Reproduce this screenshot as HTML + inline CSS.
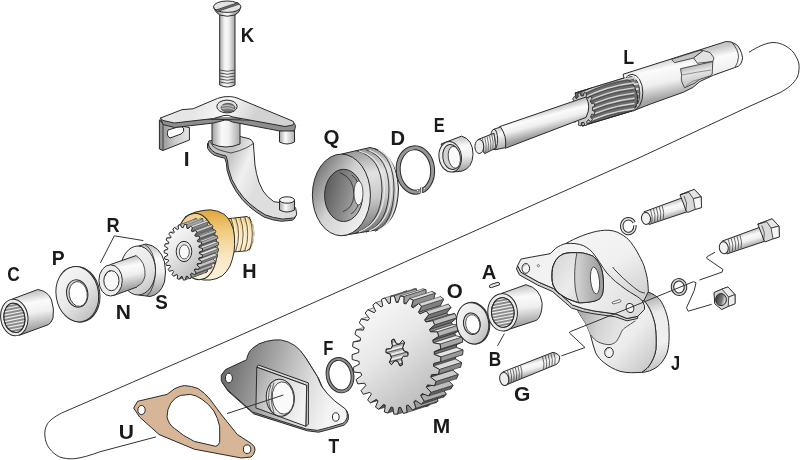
<!DOCTYPE html><html><head><meta charset="utf-8"><style>html,body{margin:0;padding:0;background:#fff;overflow:hidden;}svg{display:block;will-change:transform;}</style></head><body><svg width="800" height="460" viewBox="0 0 800 460"><defs>
<linearGradient id="gH" x1="0" y1="0" x2="1" y2="0">
 <stop offset="0" stop-color="#a0a0a0"/><stop offset="0.4" stop-color="#f6f6f6"/><stop offset="1" stop-color="#b4b4b4"/></linearGradient>
<linearGradient id="gD" x1="0" y1="0" x2="1" y2="1">
 <stop offset="0" stop-color="#fdfdfd"/><stop offset="1" stop-color="#a8a8a8"/></linearGradient>
<linearGradient id="gDr" x1="1" y1="0" x2="0" y2="1">
 <stop offset="0" stop-color="#fdfdfd"/><stop offset="1" stop-color="#a8a8a8"/></linearGradient>
<linearGradient id="gT" x1="0" y1="0" x2="1" y2="0.3">
 <stop offset="0" stop-color="#6a6a6a"/><stop offset="0.55" stop-color="#d4d4d4"/><stop offset="1" stop-color="#f4f4f4"/></linearGradient>
<linearGradient id="gGold" x1="0" y1="0" x2="1" y2="1">
 <stop offset="0" stop-color="#e0ad45"/><stop offset="0.45" stop-color="#f4d68e"/><stop offset="1" stop-color="#f0d9a0"/></linearGradient>
<linearGradient id="gM" x1="0" y1="0" x2="0.6" y2="1">
 <stop offset="0" stop-color="#ffffff"/><stop offset="0.5" stop-color="#e8e8e8"/><stop offset="1" stop-color="#bdbdbd"/></linearGradient>
<linearGradient id="gQ" x1="0" y1="0" x2="1" y2="1">
 <stop offset="0" stop-color="#5a5a5a"/><stop offset="0.45" stop-color="#e8e8e8"/><stop offset="1" stop-color="#7a7a7a"/></linearGradient>
<linearGradient id="gQi" x1="0" y1="0" x2="1" y2="1">
 <stop offset="0" stop-color="#5c5c5c"/><stop offset="1" stop-color="#a8a8a8"/></linearGradient>
<linearGradient id="cg1" gradientUnits="userSpaceOnUse" x1="219.7" y1="0" x2="235" y2="0"><stop offset="0" stop-color="#a8a8a8"/><stop offset="0.35" stop-color="#f8f8f8"/><stop offset="0.6" stop-color="#f0f0f0"/><stop offset="1" stop-color="#a0a0a0"/></linearGradient><linearGradient id="cg2" gradientUnits="userSpaceOnUse" x1="228" y1="160" x2="262" y2="175"><stop offset="0" stop-color="#c4c4c4"/><stop offset="0.5" stop-color="#f0f0f0"/><stop offset="1" stop-color="#dedede"/></linearGradient><linearGradient id="cg3" gradientUnits="userSpaceOnUse" x1="279.5" y1="0" x2="294.5" y2="0"><stop offset="0" stop-color="#a8a8a8"/><stop offset="0.4" stop-color="#fafafa"/><stop offset="1" stop-color="#b0b0b0"/></linearGradient><linearGradient id="cg4" gradientUnits="userSpaceOnUse" x1="212" y1="0" x2="240" y2="0"><stop offset="0" stop-color="#a0a0a0"/><stop offset="0.35" stop-color="#fafafa"/><stop offset="0.6" stop-color="#f0f0f0"/><stop offset="1" stop-color="#a8a8a8"/></linearGradient><linearGradient id="cg5" gradientUnits="userSpaceOnUse" x1="159" y1="0" x2="190" y2="0"><stop offset="0" stop-color="#8a8a8a"/><stop offset="0.5" stop-color="#c8c8c8"/><stop offset="1" stop-color="#e8e8e8"/></linearGradient><linearGradient id="cg6" gradientUnits="userSpaceOnUse" x1="200" y1="100" x2="250" y2="125"><stop offset="0" stop-color="#e6e6e6"/><stop offset="0.5" stop-color="#f8f8f8"/><stop offset="1" stop-color="#d2d2d2"/></linearGradient><linearGradient id="cg7" gradientUnits="userSpaceOnUse" x1="360" y1="150" x2="378" y2="232"><stop offset="0" stop-color="#9a9a9a"/><stop offset="0.3" stop-color="#e2e2e2"/><stop offset="0.6" stop-color="#c8c8c8"/><stop offset="1" stop-color="#707070"/></linearGradient><linearGradient id="cg8" gradientUnits="userSpaceOnUse" x1="315" y1="175" x2="372" y2="210"><stop offset="0" stop-color="#7c7c7c"/><stop offset="0.45" stop-color="#d2d2d2"/><stop offset="1" stop-color="#f0f0f0"/></linearGradient><linearGradient id="cg9" gradientUnits="userSpaceOnUse" x1="325" y1="190" x2="362" y2="200"><stop offset="0" stop-color="#5e5e5e"/><stop offset="0.6" stop-color="#8c8c8c"/><stop offset="1" stop-color="#b4b4b4"/></linearGradient><linearGradient id="cg10" gradientUnits="userSpaceOnUse" x1="459" y1="137" x2="463" y2="172"><stop offset="0" stop-color="#c4c4c4"/><stop offset="0.28" stop-color="#fbfbfb"/><stop offset="0.55" stop-color="#efefef"/><stop offset="1" stop-color="#9c9c9c"/></linearGradient><linearGradient id="cg11" gradientUnits="userSpaceOnUse" x1="676" y1="56" x2="684" y2="94"><stop offset="0" stop-color="#c8c8c8"/><stop offset="0.25" stop-color="#fbfbfb"/><stop offset="0.6" stop-color="#f0f0f0"/><stop offset="1" stop-color="#a4a4a4"/></linearGradient><linearGradient id="cg12" gradientUnits="userSpaceOnUse" x1="690" y1="64" x2="695" y2="86"><stop offset="0" stop-color="#a8a8a8"/><stop offset="0.4" stop-color="#e8e8e8"/><stop offset="1" stop-color="#bdbdbd"/></linearGradient><linearGradient id="cg13" gradientUnits="userSpaceOnUse" x1="543" y1="110" x2="549" y2="133"><stop offset="0" stop-color="#c4c4c4"/><stop offset="0.28" stop-color="#fbfbfb"/><stop offset="0.55" stop-color="#efefef"/><stop offset="1" stop-color="#9c9c9c"/></linearGradient><linearGradient id="cg14" gradientUnits="userSpaceOnUse" x1="498" y1="128" x2="501" y2="150"><stop offset="0" stop-color="#d0d0d0"/><stop offset="0.3" stop-color="#f8f8f8"/><stop offset="1" stop-color="#a8a8a8"/></linearGradient><linearGradient id="cg15" gradientUnits="userSpaceOnUse" x1="486" y1="134" x2="490" y2="153"><stop offset="0" stop-color="#c4c4c4"/><stop offset="0.28" stop-color="#fbfbfb"/><stop offset="0.55" stop-color="#efefef"/><stop offset="1" stop-color="#9c9c9c"/></linearGradient><linearGradient id="cg16" gradientUnits="userSpaceOnUse" x1="240" y1="216" x2="242" y2="251"><stop offset="0" stop-color="#e8c478"/><stop offset="0.35" stop-color="#f6e2b0"/><stop offset="0.75" stop-color="#faecd0"/><stop offset="1" stop-color="#f0dcb0"/></linearGradient><linearGradient id="cg17" gradientUnits="userSpaceOnUse" x1="212" y1="210" x2="214" y2="280"><stop offset="0" stop-color="#e0a63a"/><stop offset="0.3" stop-color="#f0cb7e"/><stop offset="0.65" stop-color="#f8e6c0"/><stop offset="1" stop-color="#fbf2dc"/></linearGradient><linearGradient id="cg18" gradientUnits="userSpaceOnUse" x1="180" y1="222" x2="210" y2="278"><stop offset="0" stop-color="#f0d08a"/><stop offset="0.5" stop-color="#f8e8c6"/><stop offset="1" stop-color="#fbf2dc"/></linearGradient><linearGradient id="cg19" gradientUnits="userSpaceOnUse" x1="30" y1="292" x2="36" y2="330"><stop offset="0" stop-color="#c4c4c4"/><stop offset="0.28" stop-color="#fbfbfb"/><stop offset="0.55" stop-color="#efefef"/><stop offset="1" stop-color="#9c9c9c"/></linearGradient><clipPath id="clipC"><ellipse cx="14.4" cy="317.9" rx="10.4" ry="14.7" transform="rotate(-8 14.4 317.9)"/></clipPath><linearGradient id="cg20" gradientUnits="userSpaceOnUse" x1="62" y1="272" x2="94" y2="318"><stop offset="0" stop-color="#f6f6f6"/><stop offset="0.5" stop-color="#e8e8e8"/><stop offset="1" stop-color="#bcbcbc"/></linearGradient><linearGradient id="cg21" gradientUnits="userSpaceOnUse" x1="150" y1="245" x2="155" y2="296"><stop offset="0" stop-color="#c4c4c4"/><stop offset="0.28" stop-color="#fbfbfb"/><stop offset="0.55" stop-color="#efefef"/><stop offset="1" stop-color="#9c9c9c"/></linearGradient><linearGradient id="cg22" gradientUnits="userSpaceOnUse" x1="125" y1="250" x2="150" y2="292"><stop offset="0" stop-color="#f4f4f4"/><stop offset="0.6" stop-color="#e6e6e6"/><stop offset="1" stop-color="#c4c4c4"/></linearGradient><linearGradient id="cg23" gradientUnits="userSpaceOnUse" x1="122" y1="258" x2="128" y2="290"><stop offset="0" stop-color="#c4c4c4"/><stop offset="0.28" stop-color="#fbfbfb"/><stop offset="0.55" stop-color="#efefef"/><stop offset="1" stop-color="#9c9c9c"/></linearGradient><linearGradient id="cg24" gradientUnits="userSpaceOnUse" x1="225" y1="360" x2="335" y2="395"><stop offset="0" stop-color="#686868"/><stop offset="0.5" stop-color="#b4b4b4"/><stop offset="0.8" stop-color="#e2e2e2"/><stop offset="1" stop-color="#f4f4f4"/></linearGradient><linearGradient id="cg25" gradientUnits="userSpaceOnUse" x1="256" y1="380" x2="308" y2="400"><stop offset="0" stop-color="#a8a8a8"/><stop offset="0.5" stop-color="#dcdcdc"/><stop offset="1" stop-color="#f4f4f4"/></linearGradient><clipPath id="clipSp"><path d="M392.5,345.9 L391.5,340.4 L394.0,339.0 L396.4,343.9 L399.2,344.3 L402.5,340.4 L404.6,342.4 L402.6,347.5 L403.7,350.8 L408.0,352.5 L407.7,355.9 L403.2,356.2 L401.5,359.1 L402.5,364.6 L400.0,366.0 L397.6,361.1 L394.8,360.7 L391.5,364.6 L389.4,362.6 L391.4,357.5 L390.3,354.2 L386.0,352.5 L386.3,349.1 L390.8,348.8 Z"/></clipPath><linearGradient id="cg26" gradientUnits="userSpaceOnUse" x1="458" y1="305" x2="488" y2="338"><stop offset="0" stop-color="#f8f8f8"/><stop offset="0.6" stop-color="#e4e4e4"/><stop offset="1" stop-color="#b8b8b8"/></linearGradient><linearGradient id="cg27" gradientUnits="userSpaceOnUse" x1="518" y1="286" x2="523" y2="326"><stop offset="0" stop-color="#c4c4c4"/><stop offset="0.28" stop-color="#fbfbfb"/><stop offset="0.55" stop-color="#efefef"/><stop offset="1" stop-color="#9c9c9c"/></linearGradient><clipPath id="clipB"><ellipse cx="502.8" cy="312.5" rx="11.3" ry="14.8" transform="rotate(-4 502.8 312.5)"/></clipPath><linearGradient id="cg28" gradientUnits="userSpaceOnUse" x1="645" y1="292" x2="668" y2="365"><stop offset="0" stop-color="#8c8c8c"/><stop offset="0.12" stop-color="#bdbdbd"/><stop offset="0.3" stop-color="#ececec"/><stop offset="0.7" stop-color="#f0f0f0"/><stop offset="1" stop-color="#c8c8c8"/></linearGradient><linearGradient id="cg29" gradientUnits="userSpaceOnUse" x1="590" y1="320" x2="645" y2="372"><stop offset="0" stop-color="#f4f4f4"/><stop offset="0.55" stop-color="#ececec"/><stop offset="1" stop-color="#cacaca"/></linearGradient><linearGradient id="cg30" gradientUnits="userSpaceOnUse" x1="578" y1="312" x2="630" y2="330"><stop offset="0" stop-color="#a6a6a6"/><stop offset="0.45" stop-color="#d4d4d4"/><stop offset="1" stop-color="#ececec"/></linearGradient><linearGradient id="cg31" gradientUnits="userSpaceOnUse" x1="605" y1="232" x2="640" y2="300"><stop offset="0" stop-color="#f4f4f4"/><stop offset="0.4" stop-color="#f0f0f0"/><stop offset="1" stop-color="#d0d0d0"/></linearGradient><linearGradient id="cg32" gradientUnits="userSpaceOnUse" x1="520" y1="250" x2="640" y2="310"><stop offset="0" stop-color="#eeeeee"/><stop offset="0.5" stop-color="#f6f6f6"/><stop offset="1" stop-color="#dcdcdc"/></linearGradient><linearGradient id="cg33" gradientUnits="userSpaceOnUse" x1="552" y1="262" x2="604" y2="298"><stop offset="0" stop-color="#d8d8d8"/><stop offset="0.45" stop-color="#ececec"/><stop offset="1" stop-color="#c4c4c4"/></linearGradient><linearGradient id="cg34" gradientUnits="userSpaceOnUse" x1="578" y1="270" x2="600" y2="270"><stop offset="0" stop-color="#cfcfcf"/><stop offset="1" stop-color="#9e9e9e"/></linearGradient><linearGradient id="cg35" gradientUnits="userSpaceOnUse" x1="528" y1="361" x2="532" y2="376"><stop offset="0" stop-color="#c4c4c4"/><stop offset="0.28" stop-color="#fbfbfb"/><stop offset="0.55" stop-color="#efefef"/><stop offset="1" stop-color="#9c9c9c"/></linearGradient><linearGradient id="cg36" gradientUnits="userSpaceOnUse" x1="664" y1="204" x2="668" y2="218"><stop offset="0" stop-color="#c8c8c8"/><stop offset="0.3" stop-color="#fafafa"/><stop offset="0.6" stop-color="#f0f0f0"/><stop offset="1" stop-color="#a8a8a8"/></linearGradient><linearGradient id="cg37" gradientUnits="userSpaceOnUse" x1="741.8" y1="233.4" x2="745.8" y2="247.4"><stop offset="0" stop-color="#c8c8c8"/><stop offset="0.3" stop-color="#fafafa"/><stop offset="0.6" stop-color="#f0f0f0"/><stop offset="1" stop-color="#a8a8a8"/></linearGradient><linearGradient id="cg38" gradientUnits="userSpaceOnUse" x1="716" y1="298" x2="727" y2="301"><stop offset="0" stop-color="#3e3e3e"/><stop offset="0.55" stop-color="#7a7a7a"/><stop offset="0.8" stop-color="#d8d8d8"/><stop offset="1" stop-color="#a0a0a0"/></linearGradient></defs><rect width="800" height="460" fill="#fff"/><path d="M749,52.3 C754,49 758,47 760.9,45.7 C765,44 769,42.7 773,42.5 C778,42.5 782,44 785.2,45.7 C790,48.5 794,52 795.7,56.1 C798,60 799.2,63 799.1,66.5 C799.2,70.5 798.5,74 797.4,77 C795.5,80.5 793,83.5 790.4,85.7 C787,88.5 783.5,90.8 780,92.6 L743.5,109.1 L640,157.4 L229.4,340.1 L61.5,413.1 C55,416.5 50,420 47.5,423.75 C45,428 44.5,432 44.9,436 C45.3,441 46.8,445 49.25,448.25 C52,452 55.5,455 59.75,457 C64,458.5 68.5,459 73.75,458.75 C82,458 91,455 100,451.75 L156,436.9" fill="none" stroke="#333" stroke-width="1"/>
<path d="M219.7,13 L235,13 L235,85 Q227.3,89 219.7,85 Z" fill="url(#cg1)" stroke="#2a2a2a" stroke-width="1"/>
<path d="M219.7,70 Q227.3,72.5 235,70" fill="none" stroke="#444" stroke-width="0.9"/>
<path d="M219.7,73 Q227.3,75.5 235,73" fill="none" stroke="#444" stroke-width="0.9"/>
<path d="M219.7,76 Q227.3,78.5 235,76" fill="none" stroke="#444" stroke-width="0.9"/>
<path d="M219.7,79 Q227.3,81.5 235,79" fill="none" stroke="#444" stroke-width="0.9"/>
<path d="M219.7,82 Q227.3,84.5 235,82" fill="none" stroke="#444" stroke-width="0.9"/>
<path d="M213.6,7.5 Q215,12 219.7,15 Q227.3,17.5 235,15 Q240,12 240.8,7.5 Z" fill="url(#cg1)" stroke="#2a2a2a" stroke-width="1"/>
<ellipse cx="227.2" cy="6.7" rx="13.7" ry="5.7" fill="#e2e2e2" stroke="#2a2a2a" stroke-width="1"/>
<path d="M216,10 L238,2.6 L239,4.2 L217.2,11.5 Z" fill="#777" stroke="#333" stroke-width="0.8"/>
<path d="M208.7,141 L208.7,146 Q211,150.5 215.2,152.8 Q221,155 226,156 Q228,160 228.3,168 Q231,180 237,188.7 Q243,198 250,204 Q257,210 265.2,214.8 Q273,218 282.6,219.1 L293.5,218 Q297,216 296.7,213.7 L295.7,208.3 Q294,205 291.3,204 L273.9,201.7 Q267,197 263,190.9 Q258,182 256.5,173.5 Q254.5,165 254.3,156 L253.3,143 Q252,139.5 249,138.7 L240.2,136.5 Z" transform="translate(-1.2,2.2)" fill="#9a9a9a" stroke="#2a2a2a" stroke-width="1"/>
<path d="M208.7,141 L208.7,146 Q211,150.5 215.2,152.8 Q221,155 226,156 Q228,160 228.3,168 Q231,180 237,188.7 Q243,198 250,204 Q257,210 265.2,214.8 Q273,218 282.6,219.1 L293.5,218 Q297,216 296.7,213.7 L295.7,208.3 Q294,205 291.3,204 L273.9,201.7 Q267,197 263,190.9 Q258,182 256.5,173.5 Q254.5,165 254.3,156 L253.3,143 Q252,139.5 249,138.7 L240.2,136.5 Z" fill="url(#cg2)" stroke="#2a2a2a" stroke-width="1"/>
<path d="M210,141.5 Q212,147 218,149.5 Q226,152 231,153 Q240,151 247,147.5 Q251,145 253.3,143.5" fill="none" stroke="#2a2a2a" stroke-width="0.8"/>
<path d="M279.5,200 L279.5,210 Q287,214 294.5,210 L294.5,200 Z" fill="url(#cg3)" stroke="#2a2a2a" stroke-width="1"/>
<ellipse cx="287" cy="200" rx="7.5" ry="3.2" fill="#f2f2f2" stroke="#2a2a2a" stroke-width="1"/>
<path d="M212,118 L212,144 Q226,150 240,144 L240,118 Z" fill="url(#cg4)" stroke="#2a2a2a" stroke-width="1"/>
<path d="M159.4,120 L159.4,149 L163,150.5 L189.4,140 L189.4,127.5 L163,123 Z" fill="url(#cg5)" stroke="#2a2a2a" stroke-width="1"/>
<path d="M168,130 Q166,136 170,138 L181,134 Q185,132 183.5,128 Q182,126 178,127 Z" fill="#fff" stroke="#2a2a2a" stroke-width="1"/>
<path d="M159.4,120 L163,123 L163,150.5" fill="none" stroke="#2a2a2a" stroke-width="0.8"/>
<path d="M160.3,118.1 L163,124.5 L174.4,127.5 L213.75,123 L225,120 Q228,119.5 232.5,122 L285,132 L294.4,131 L295.6,125.5 L292.5,121 Z" fill="#8e8e8e" stroke="#2a2a2a" stroke-width="1"/>
<path d="M160.3,118.1 L181.9,109.7 L193.1,108.75 L217.5,98.4 Q224,96 230.6,96.6 Q235,97 238,98.4 L292.5,121 Q295.5,123 293,125 L285,126.5 L233,117 Q228,114.5 224,115.5 L213.5,118.5 L174.4,123 L163,120.5 Z" fill="url(#cg6)" stroke="#2a2a2a" stroke-width="1"/>
<ellipse cx="227" cy="106.5" rx="10.2" ry="6.4" fill="#e4e4e4" stroke="#2a2a2a" stroke-width="1"/>
<ellipse cx="228" cy="107.7" rx="7" ry="4.3" fill="#7e7e7e" stroke="#333" stroke-width="0.7"/>
<path d="M221.5,106.3 Q228,103.8 234,107 M221.5,108.8 Q228,106.3 234.5,109.6" fill="none" stroke="#d8d8d8" stroke-width="0.8"/>
<path d="M279.5,131 L279.5,142 Q287,146 294.5,142 L294.5,131 Z" fill="url(#cg3)" stroke="#2a2a2a" stroke-width="1"/>
<path d="M341.4,154.1 L370,147.5 Q396,152 398.5,188 Q398,224 375,230.2 L341.4,235.7 Z" fill="url(#cg7)" stroke="#2a2a2a" stroke-width="1"/>
<path d="M356,150.5 Q382,157 382,190 Q381,224 356,233.0" fill="none" stroke="#2a2a2a" stroke-width="0.9"/>
<path d="M359,151.0 Q384.5,158 384.5,190 Q383.5,222 359,232.0" fill="none" stroke="#e8e8e8" stroke-width="1.2"/>
<path d="M366,149.7 Q389,157 389,190 Q388,224 366,232.2" fill="none" stroke="#2a2a2a" stroke-width="0.9"/>
<path d="M369,150.2 Q391.5,158 391.5,190 Q390.5,222 369,231.2" fill="none" stroke="#e8e8e8" stroke-width="1.2"/>
<path d="M375,148.9 Q394,157 394,190 Q393,224 375,231.4" fill="none" stroke="#2a2a2a" stroke-width="0.9"/>
<path d="M378,149.4 Q396.5,158 396.5,190 Q395.5,222 378,230.4" fill="none" stroke="#e8e8e8" stroke-width="1.2"/>
<ellipse cx="341.4" cy="194.9" rx="29" ry="40.8" fill="url(#cg8)" stroke="#2a2a2a" stroke-width="1"/>
<ellipse cx="343.6" cy="195.4" rx="19" ry="26.1" fill="url(#cg9)" stroke="#2a2a2a" stroke-width="1"/>
<path d="M339.8,172.6 Q354,178 354,195 Q353,208 343,211.7" fill="none" stroke="#2a2a2a" stroke-width="0.8"/>
<path d="M351.7,174.8 Q361,182 360,198 Q358,210 351,214" fill="none" stroke="#2a2a2a" stroke-width="0.8"/>
<ellipse cx="358.5" cy="193" rx="4.5" ry="12" fill="#f6f6f6" stroke="#2a2a2a" stroke-width="0.7"/>
<ellipse cx="415.4" cy="170" rx="17.2" ry="22.2" transform="rotate(-5 415.4 170)" fill="none" stroke="#2a2a2a" stroke-width="5"/>
<ellipse cx="415.4" cy="170" rx="17.2" ry="22.2" transform="rotate(-5 415.4 170)" fill="none" stroke="#979797" stroke-width="3"/>
<path d="M419.5,186 L422.5,186 L423,195 L420,195 Z" fill="#fff"/>
<path d="M420.5,187.5 L420.8,193.5" stroke="#2a2a2a" stroke-width="0.8"/>
<path d="M422.3,187 L422.6,193" stroke="#2a2a2a" stroke-width="0.8"/>
<circle cx="417.6" cy="190.6" r="1.1" fill="#fff" stroke="#222" stroke-width="0.5"/><circle cx="424.4" cy="188.5" r="1.1" fill="#fff" stroke="#222" stroke-width="0.5"/>
<path d="M441,144 L461.6,136.1 Q473,139.5 473,154.4 Q472.5,168 462,171.1 L453,172 Z" fill="url(#cg10)" stroke="#2a2a2a" stroke-width="1"/>
<ellipse cx="450.2" cy="156.8" rx="11.2" ry="15.3" transform="rotate(-8 450.2 156.8)" fill="#ececec" stroke="#2a2a2a" stroke-width="1"/>
<ellipse cx="451.4" cy="157" rx="8.6" ry="12.6" transform="rotate(-8 451.4 157)" fill="#d2d2d2" stroke="#2a2a2a" stroke-width="1"/>
<ellipse cx="454.3" cy="157.3" rx="6" ry="11" transform="rotate(-8 454.3 157.3)" fill="#fafafa" stroke="#2a2a2a" stroke-width="0.8"/>
<path d="M623,74.3 L726.1,41.5 Q731,40.8 736.5,44.6 Q741,49 742.6,57.6 Q742,64 738.2,66.3 L734.4,67.7 L713.5,75.2 L700,81.4 L692.8,87.5 L683.7,92.1 L670,97 L650,104.2 L633,110.9 Z" fill="url(#cg11)" stroke="#2a2a2a" stroke-width="1"/>
<path d="M732,42.5 Q738.5,50 738.5,57 Q738,63 735,67.3" fill="none" stroke="#2a2a2a" stroke-width="0.8"/>
<ellipse cx="632" cy="92.6" rx="10.8" ry="18.3" fill="url(#cg11)" stroke="#2a2a2a" stroke-width="1"/>
<ellipse cx="631" cy="93" rx="8.8" ry="16.5" fill="#7a7a7a" stroke="#2a2a2a" stroke-width="0.8"/>
<path d="M626,80.0 L638.5,78.5" stroke="#e6e6e6" stroke-width="1.6"/>
<path d="M626,85.2 L638.5,83.7" stroke="#e6e6e6" stroke-width="1.6"/>
<path d="M626,90.4 L638.5,88.9" stroke="#e6e6e6" stroke-width="1.6"/>
<path d="M626,95.6 L638.5,94.1" stroke="#e6e6e6" stroke-width="1.6"/>
<path d="M626,100.8 L638.5,99.3" stroke="#e6e6e6" stroke-width="1.6"/>
<path d="M626,106.0 L638.5,104.5" stroke="#e6e6e6" stroke-width="1.6"/>
<path d="M671.5,59.4 L674.6,62.7 L693.7,58 L703.2,50.6 L700,50.3 L687.7,54.2 L684,55.3 Z" fill="#c4c4c4" stroke="#2a2a2a" stroke-width="0.8"/>
<path d="M693.7,57.9 L697.3,63.3 L712.8,61.5 L714,57.9 L710,52.5 L703.2,50.6 Z" fill="#e2e2e2" stroke="#2a2a2a" stroke-width="0.8"/>
<path d="M680.5,68.7 L712.8,61.5 L712.2,74 L710.4,75.8 L699.6,79.4 L694.9,83 L684.7,87.8 Q680,80 681.7,75.8 Z" fill="url(#cg12)" stroke="#2a2a2a" stroke-width="0.8"/>
<path d="M682,75 Q697,72 711,70 M686,86 Q692,80 699,79.4" fill="none" stroke="#777" stroke-width="0.8"/>
<path d="M575,93 L624,78 Q631,80 634,86 Q639,95 637,104 Q635,109 632,111 L582,126 Z" fill="#6c6c6c" stroke="#2a2a2a" stroke-width="1"/>
<path d="M583.0,93.0 C600.0,84.0 614.0,80.0 634.0,77.5" fill="none" stroke="#d4d4d4" stroke-width="1.4" stroke-linecap="round"/>
<path d="M583.0,95.0 C600.0,86.0 614.0,82.0 634.0,79.5" fill="none" stroke="#505050" stroke-width="1"/>
<path d="M583.0,98.2 C600.0,89.2 614.0,85.2 634.0,82.7" fill="none" stroke="#d4d4d4" stroke-width="1.4" stroke-linecap="round"/>
<path d="M583.0,100.2 C600.0,91.2 614.0,87.2 634.0,84.7" fill="none" stroke="#505050" stroke-width="1"/>
<path d="M583.0,103.4 C600.0,94.4 614.0,90.4 634.0,87.9" fill="none" stroke="#d4d4d4" stroke-width="1.4" stroke-linecap="round"/>
<path d="M583.0,105.4 C600.0,96.4 614.0,92.4 634.0,89.9" fill="none" stroke="#505050" stroke-width="1"/>
<path d="M583.0,108.6 C600.0,99.6 614.0,95.6 634.0,93.1" fill="none" stroke="#d4d4d4" stroke-width="1.4" stroke-linecap="round"/>
<path d="M583.0,110.6 C600.0,101.6 614.0,97.6 634.0,95.1" fill="none" stroke="#505050" stroke-width="1"/>
<path d="M583.0,113.8 C600.0,104.8 614.0,100.8 634.0,98.3" fill="none" stroke="#d4d4d4" stroke-width="1.4" stroke-linecap="round"/>
<path d="M583.0,115.8 C600.0,106.8 614.0,102.8 634.0,100.3" fill="none" stroke="#505050" stroke-width="1"/>
<path d="M583.0,119.0 C600.0,110.0 614.0,106.0 634.0,103.5" fill="none" stroke="#d4d4d4" stroke-width="1.4" stroke-linecap="round"/>
<path d="M583.0,121.0 C600.0,112.0 614.0,108.0 634.0,105.5" fill="none" stroke="#505050" stroke-width="1"/>
<path d="M583.0,124.2 C600.0,115.2 614.0,111.2 634.0,108.7" fill="none" stroke="#d4d4d4" stroke-width="1.4" stroke-linecap="round"/>
<path d="M583.0,126.2 C600.0,117.2 614.0,113.2 634.0,110.7" fill="none" stroke="#505050" stroke-width="1"/>
<path d="M575,93 L624,78 M582,126 L632,111" fill="none" stroke="#2a2a2a" stroke-width="1"/>
<path d="M592.5,110.5 L594.9,111.4 L594.3,114.8 L591.8,114.1 L590.6,117.0 L592.4,119.4 L590.6,122.0 L588.7,119.7 L586.6,121.5 L587.3,124.7 L584.8,125.7 L584.0,122.5 L581.5,122.6 L580.9,125.9 L578.3,125.0 L578.9,121.7 L576.7,120.1 L574.9,122.5 L573.0,120.1 L574.7,117.6 L573.4,114.7 L570.9,115.6 L570.2,112.3 L572.6,111.2 L572.5,107.9 L570.1,107.0 L570.7,103.6 L573.2,104.3 L574.4,101.4 L572.6,99.0 L574.4,96.4 L576.3,98.7 L578.4,96.9 L577.7,93.7 L580.2,92.7 L581.0,95.9 L583.5,95.8 L584.1,92.5 L586.7,93.4 L586.1,96.7 L588.3,98.3 L590.1,95.9 L592.0,98.3 L590.3,100.8 L591.6,103.7 L594.1,102.8 L594.8,106.1 L592.4,107.2 Z" fill="#c8c8c8" stroke="#2a2a2a" stroke-width="0.9"/>
<path d="M499.4,126.7 L586,97 Q591.5,106.5 586,117.4 L505.2,148.3 Z" fill="url(#cg13)" stroke="none"/>
<path d="M499.4,126.7 L586,97 Q591.5,106.5 586,117.4 L505.2,148.3" fill="none" stroke="#2a2a2a" stroke-width="1"/>
<path d="M494,129.2 L500.5,127 Q507,136 505.5,147.6 L495,149.8 Z" fill="url(#cg14)" stroke="#2a2a2a" stroke-width="1"/>
<ellipse cx="494" cy="139.5" rx="3.6" ry="10.3" fill="#e8e8e8" stroke="#2a2a2a" stroke-width="1"/>
<path d="M478,139.5 L494,133.2 L496,148 L484.7,153.6 Z" fill="url(#cg15)" stroke="#2a2a2a" stroke-width="1"/>
<path d="M482.3,138.0 Q484.7,145.3 483.4,153.1" fill="none" stroke="#555" stroke-width="0.8"/>
<path d="M484.7,137.2 Q487.1,144.6 485.8,152.3" fill="none" stroke="#555" stroke-width="0.8"/>
<path d="M487.0,136.3 Q489.4,143.8 488.1,151.5" fill="none" stroke="#555" stroke-width="0.8"/>
<path d="M489.4,135.4 Q491.8,143.1 490.5,150.7" fill="none" stroke="#555" stroke-width="0.8"/>
<path d="M491.7,134.6 Q494.1,142.3 492.8,149.9" fill="none" stroke="#555" stroke-width="0.8"/>
<path d="M494.1,133.8 Q496.4,141.6 495.2,149.1" fill="none" stroke="#555" stroke-width="0.8"/>
<ellipse cx="479.3" cy="146.5" rx="4.4" ry="7" fill="#ececec" stroke="#2a2a2a" stroke-width="1"/>
<path d="M226,219 L247,216.5 Q254,220 253.8,234 Q253.5,248 247,250.8 L226,252.5 Z" fill="url(#cg16)" stroke="#2a2a2a" stroke-width="1"/>
<path d="M231.0,218.3 Q237.0,234.0 231.0,251.8" fill="none" stroke="#4a3a20" stroke-width="0.8"/>
<path d="M232.6,218.6 Q238.2,234.0 232.6,251.6" fill="none" stroke="#fff6e0" stroke-width="0.9"/>
<path d="M235.6,217.9 Q241.6,234.0 235.6,251.5" fill="none" stroke="#4a3a20" stroke-width="0.8"/>
<path d="M237.2,218.2 Q242.8,234.0 237.2,251.3" fill="none" stroke="#fff6e0" stroke-width="0.9"/>
<path d="M240.2,217.5 Q246.2,234.0 240.2,251.2" fill="none" stroke="#4a3a20" stroke-width="0.8"/>
<path d="M241.8,217.8 Q247.4,234.0 241.8,251.0" fill="none" stroke="#fff6e0" stroke-width="0.9"/>
<path d="M244.8,217.1 Q250.8,234.0 244.8,250.9" fill="none" stroke="#4a3a20" stroke-width="0.8"/>
<path d="M246.4,217.4 Q252.0,234.0 246.4,250.7" fill="none" stroke="#fff6e0" stroke-width="0.9"/>
<path d="M249.4,216.7 Q255.4,234.0 249.4,250.6" fill="none" stroke="#4a3a20" stroke-width="0.8"/>
<path d="M251.0,217.0 Q256.6,234.0 251.0,250.4" fill="none" stroke="#fff6e0" stroke-width="0.9"/>
<path d="M185,217 Q190,214 195,212.2 Q203,210 210.5,209.8 Q218,210.5 223.7,214 Q228.5,217.5 230.9,222.9 Q234,229 234.4,236 Q235,245 234,252 Q232.5,260 230,266 Q226.5,272.5 222,276 Q216,279.5 210,280 Q204,280.5 198,279 Z" fill="url(#cg17)" stroke="#2a2a2a" stroke-width="1"/>
<ellipse cx="197" cy="246.5" rx="20" ry="33.3" transform="rotate(-6 197 246.5)" fill="url(#cg18)" stroke="#2a2a2a" stroke-width="1"/>
<path d="M215.3,247.5 L218.5,248.9 L218.3,251.2 L214.9,251.9 L214.6,253.4 L217.6,255.3 L217.0,257.5 L213.4,257.6 L212.9,259.0 L215.5,261.4 L214.5,263.5 L211.0,262.9 L210.2,264.1 L212.2,267.0 L210.7,268.7 L207.5,267.2 L206.5,268.1 L207.5,271.5 L205.6,272.6 L203.2,270.1 L202.0,270.5 L201.6,273.9 L199.3,274.1 L198.4,270.7 L197.1,270.5 L195.2,273.4 L193.1,272.5 L193.7,269.1 L192.6,268.4 L189.6,270.2 L188.0,268.6 L189.6,265.5 L188.8,264.4 L185.4,265.3 L184.2,263.3 L186.6,260.7 L186.0,259.4 L182.5,259.5 L181.8,257.3 L184.6,255.2 L184.3,253.8 L180.8,253.2 L180.5,251.0 L183.6,249.4 L183.5,247.9 L180.2,246.8 L180.2,244.5 L183.6,243.4 L183.7,242.0 L180.6,240.3 L181.0,238.0 L184.5,237.6 L184.9,236.2 L182.1,234.0 L182.9,231.9 L186.4,232.0 L187.1,230.8 L184.8,228.1 L186.0,226.2 L189.4,227.2 L190.3,226.1 L188.8,223.0 L190.5,221.5 L193.3,223.5 L194.5,222.9 L194.1,219.4 L196.3,218.7 L198.0,221.7 L199.2,221.6 L200.5,218.3 L202.7,218.7 L202.8,222.2 L204.0,222.7 L206.6,220.3 L208.5,221.6 L207.3,224.9 L208.2,225.8 L211.5,224.5 L212.9,226.3 L210.8,229.2 L211.5,230.4 L215.0,230.0 L215.9,232.0 L213.3,234.4 L213.8,235.8 L217.3,236.0 L217.8,238.2 L214.8,240.1 L215.0,241.5 L218.4,242.4 L218.6,244.7 L215.3,246.0 Z" fill="#707070" stroke="#2a2a2a" stroke-width="1"/>
<path d="M176.6,274.4 L173.6,276.2 L189.6,270.2 L192.6,268.4 Z" fill="#484848" stroke="#3a3a3a" stroke-width="0.35" stroke-linejoin="round"/>
<path d="M164.2,250.5 L167.6,249.4 L183.6,243.4 L180.2,244.5 Z" fill="#eaeaea" stroke="#3a3a3a" stroke-width="0.35" stroke-linejoin="round"/>
<path d="M165.0,244.0 L168.5,243.6 L184.5,237.6 L181.0,238.0 Z" fill="#ececec" stroke="#3a3a3a" stroke-width="0.35" stroke-linejoin="round"/>
<path d="M181.1,276.5 L179.2,279.4 L195.2,273.4 L197.1,270.5 Z" fill="#585858" stroke="#3a3a3a" stroke-width="0.35" stroke-linejoin="round"/>
<path d="M166.9,237.9 L170.4,238.0 L186.4,232.0 L182.9,231.9 Z" fill="#ececec" stroke="#3a3a3a" stroke-width="0.35" stroke-linejoin="round"/>
<path d="M186.0,276.5 L185.6,279.9 L201.6,273.9 L202.0,270.5 Z" fill="#777777" stroke="#3a3a3a" stroke-width="0.35" stroke-linejoin="round"/>
<path d="M170.0,232.2 L173.4,233.2 L189.4,227.2 L186.0,226.2 Z" fill="#e8e8e8" stroke="#3a3a3a" stroke-width="0.35" stroke-linejoin="round"/>
<path d="M191.5,277.5 L189.6,278.6 L205.6,272.6 L207.5,271.5 Z" fill="#444444" stroke="#3a3a3a" stroke-width="0.35" stroke-linejoin="round"/>
<path d="M190.5,274.1 L191.5,277.5 L207.5,271.5 L206.5,268.1 Z" fill="#989898" stroke="#3a3a3a" stroke-width="0.35" stroke-linejoin="round"/>
<path d="M191.5,273.2 L190.5,274.1 L206.5,268.1 L207.5,267.2 Z" fill="#3c3c3c" stroke="#3a3a3a" stroke-width="0.35" stroke-linejoin="round"/>
<path d="M174.5,227.5 L177.3,229.5 L193.3,223.5 L190.5,221.5 Z" fill="#dddddd" stroke="#3a3a3a" stroke-width="0.35" stroke-linejoin="round"/>
<path d="M196.2,273.0 L194.7,274.7 L210.7,268.7 L212.2,267.0 Z" fill="#585858" stroke="#3a3a3a" stroke-width="0.35" stroke-linejoin="round"/>
<path d="M194.2,270.1 L196.2,273.0 L212.2,267.0 L210.2,264.1 Z" fill="#b1b1b1" stroke="#3a3a3a" stroke-width="0.35" stroke-linejoin="round"/>
<path d="M195.0,268.9 L194.2,270.1 L210.2,264.1 L211.0,262.9 Z" fill="#3c3c3c" stroke="#3a3a3a" stroke-width="0.35" stroke-linejoin="round"/>
<path d="M178.1,225.4 L180.3,224.7 L196.3,218.7 L194.1,219.4 Z" fill="#eaeaea" stroke="#3a3a3a" stroke-width="0.35" stroke-linejoin="round"/>
<path d="M180.3,224.7 L182.0,227.7 L198.0,221.7 L196.3,218.7 Z" fill="#c5c5c5" stroke="#3a3a3a" stroke-width="0.35" stroke-linejoin="round"/>
<path d="M182.0,227.7 L183.2,227.6 L199.2,221.6 L198.0,221.7 Z" fill="#bbbbbb" stroke="#3a3a3a" stroke-width="0.35" stroke-linejoin="round"/>
<path d="M197.4,263.6 L196.9,265.0 L212.9,259.0 L213.4,257.6 Z" fill="#464646" stroke="#3a3a3a" stroke-width="0.35" stroke-linejoin="round"/>
<path d="M199.5,267.4 L198.5,269.5 L214.5,263.5 L215.5,261.4 Z" fill="#6d6d6d" stroke="#3a3a3a" stroke-width="0.35" stroke-linejoin="round"/>
<path d="M196.9,265.0 L199.5,267.4 L215.5,261.4 L212.9,259.0 Z" fill="#c4c4c4" stroke="#3a3a3a" stroke-width="0.35" stroke-linejoin="round"/>
<path d="M184.5,224.3 L186.7,224.7 L202.7,218.7 L200.5,218.3 Z" fill="#ebebeb" stroke="#3a3a3a" stroke-width="0.35" stroke-linejoin="round"/>
<path d="M198.9,257.9 L198.6,259.4 L214.6,253.4 L214.9,251.9 Z" fill="#5a5a5a" stroke="#3a3a3a" stroke-width="0.35" stroke-linejoin="round"/>
<path d="M186.8,228.2 L188.0,228.7 L204.0,222.7 L202.8,222.2 Z" fill="#b3b3b3" stroke="#3a3a3a" stroke-width="0.35" stroke-linejoin="round"/>
<path d="M186.7,224.7 L186.8,228.2 L202.8,222.2 L202.7,218.7 Z" fill="#a3a3a3" stroke="#3a3a3a" stroke-width="0.35" stroke-linejoin="round"/>
<path d="M198.6,259.4 L201.6,261.3 L217.6,255.3 L214.6,253.4 Z" fill="#d5d5d5" stroke="#3a3a3a" stroke-width="0.35" stroke-linejoin="round"/>
<path d="M201.6,261.3 L201.0,263.5 L217.0,257.5 L217.6,255.3 Z" fill="#818181" stroke="#3a3a3a" stroke-width="0.35" stroke-linejoin="round"/>
<path d="M199.3,252.0 L199.3,253.5 L215.3,247.5 L215.3,246.0 Z" fill="#6d6d6d" stroke="#3a3a3a" stroke-width="0.35" stroke-linejoin="round"/>
<path d="M191.3,230.9 L192.2,231.8 L208.2,225.8 L207.3,224.9 Z" fill="#a3a3a3" stroke="#3a3a3a" stroke-width="0.35" stroke-linejoin="round"/>
<path d="M199.3,253.5 L202.5,254.9 L218.5,248.9 L215.3,247.5 Z" fill="#e2e2e2" stroke="#3a3a3a" stroke-width="0.35" stroke-linejoin="round"/>
<path d="M192.5,227.6 L191.3,230.9 L207.3,224.9 L208.5,221.6 Z" fill="#888888" stroke="#3a3a3a" stroke-width="0.35" stroke-linejoin="round"/>
<path d="M198.8,246.1 L199.0,247.5 L215.0,241.5 L214.8,240.1 Z" fill="#797979" stroke="#3a3a3a" stroke-width="0.35" stroke-linejoin="round"/>
<path d="M202.5,254.9 L202.3,257.2 L218.3,251.2 L218.5,248.9 Z" fill="#959595" stroke="#3a3a3a" stroke-width="0.35" stroke-linejoin="round"/>
<path d="M190.6,226.3 L192.5,227.6 L208.5,221.6 L206.6,220.3 Z" fill="#dedede" stroke="#3a3a3a" stroke-width="0.35" stroke-linejoin="round"/>
<path d="M202.6,250.7 L199.3,252.0 L215.3,246.0 L218.6,244.7 Z" fill="#606060" stroke="#3a3a3a" stroke-width="0.35" stroke-linejoin="round"/>
<path d="M194.8,235.2 L195.5,236.4 L211.5,230.4 L210.8,229.2 Z" fill="#939393" stroke="#3a3a3a" stroke-width="0.35" stroke-linejoin="round"/>
<path d="M197.3,240.4 L197.8,241.8 L213.8,235.8 L213.3,234.4 Z" fill="#868686" stroke="#3a3a3a" stroke-width="0.35" stroke-linejoin="round"/>
<path d="M199.0,247.5 L202.4,248.4 L218.4,242.4 L215.0,241.5 Z" fill="#e9e9e9" stroke="#3a3a3a" stroke-width="0.35" stroke-linejoin="round"/>
<path d="M196.9,232.3 L194.8,235.2 L210.8,229.2 L212.9,226.3 Z" fill="#777777" stroke="#3a3a3a" stroke-width="0.35" stroke-linejoin="round"/>
<path d="M201.8,244.2 L198.8,246.1 L214.8,240.1 L217.8,238.2 Z" fill="#656565" stroke="#3a3a3a" stroke-width="0.35" stroke-linejoin="round"/>
<path d="M195.5,236.4 L199.0,236.0 L215.0,230.0 L211.5,230.4 Z" fill="#ececec" stroke="#3a3a3a" stroke-width="0.35" stroke-linejoin="round"/>
<path d="M197.8,241.8 L201.3,242.0 L217.3,236.0 L213.8,235.8 Z" fill="#ececec" stroke="#3a3a3a" stroke-width="0.35" stroke-linejoin="round"/>
<path d="M202.4,248.4 L202.6,250.7 L218.6,244.7 L218.4,242.4 Z" fill="#a5a5a5" stroke="#3a3a3a" stroke-width="0.35" stroke-linejoin="round"/>
<path d="M199.9,238.0 L197.3,240.4 L213.3,234.4 L215.9,232.0 Z" fill="#6c6c6c" stroke="#3a3a3a" stroke-width="0.35" stroke-linejoin="round"/>
<path d="M195.5,230.5 L196.9,232.3 L212.9,226.3 L211.5,224.5 Z" fill="#cdcdcd" stroke="#3a3a3a" stroke-width="0.35" stroke-linejoin="round"/>
<path d="M201.3,242.0 L201.8,244.2 L217.8,238.2 L217.3,236.0 Z" fill="#b1b1b1" stroke="#3a3a3a" stroke-width="0.35" stroke-linejoin="round"/>
<path d="M199.0,236.0 L199.9,238.0 L215.9,232.0 L215.0,230.0 Z" fill="#bebebe" stroke="#3a3a3a" stroke-width="0.35" stroke-linejoin="round"/>
<path d="M199.3,253.5 L202.5,254.9 L202.3,257.2 L198.9,257.9 L198.6,259.4 L201.6,261.3 L201.0,263.5 L197.4,263.6 L196.9,265.0 L199.5,267.4 L198.5,269.5 L195.0,268.9 L194.2,270.1 L196.2,273.0 L194.7,274.7 L191.5,273.2 L190.5,274.1 L191.5,277.5 L189.6,278.6 L187.2,276.1 L186.0,276.5 L185.6,279.9 L183.3,280.1 L182.4,276.7 L181.1,276.5 L179.2,279.4 L177.1,278.5 L177.7,275.1 L176.6,274.4 L173.6,276.2 L172.0,274.6 L173.6,271.5 L172.8,270.4 L169.4,271.3 L168.2,269.3 L170.6,266.7 L170.0,265.4 L166.5,265.5 L165.8,263.3 L168.6,261.2 L168.3,259.8 L164.8,259.2 L164.5,257.0 L167.6,255.4 L167.5,253.9 L164.2,252.8 L164.2,250.5 L167.6,249.4 L167.7,248.0 L164.6,246.3 L165.0,244.0 L168.5,243.6 L168.9,242.2 L166.1,240.0 L166.9,237.9 L170.4,238.0 L171.1,236.8 L168.8,234.1 L170.0,232.2 L173.4,233.2 L174.3,232.1 L172.8,229.0 L174.5,227.5 L177.3,229.5 L178.5,228.9 L178.1,225.4 L180.3,224.7 L182.0,227.7 L183.2,227.6 L184.5,224.3 L186.7,224.7 L186.8,228.2 L188.0,228.7 L190.6,226.3 L192.5,227.6 L191.3,230.9 L192.2,231.8 L195.5,230.5 L196.9,232.3 L194.8,235.2 L195.5,236.4 L199.0,236.0 L199.9,238.0 L197.3,240.4 L197.8,241.8 L201.3,242.0 L201.8,244.2 L198.8,246.1 L199.0,247.5 L202.4,248.4 L202.6,250.7 L199.3,252.0 Z" fill="url(#gM)" stroke="#2a2a2a" stroke-width="1"/>
<ellipse cx="184" cy="251.5" rx="7.8" ry="10.2" fill="#e6e6e6" stroke="#2a2a2a" stroke-width="1"/>
<ellipse cx="184.3" cy="251.9" rx="5" ry="7.1" fill="#f8f8f8" stroke="#2a2a2a" stroke-width="0.8"/>
<path d="M11.7,299.3 L37.8,289.5 Q48,291 51.5,300 Q54.5,309 53,318 Q51.5,323 48.3,324.7 L19.6,335.2 Z" fill="url(#cg19)" stroke="#2a2a2a" stroke-width="1"/>
<ellipse cx="14.3" cy="317.5" rx="13.6" ry="18.3" transform="rotate(-8 14.3 317.5)" fill="#ececec" stroke="#2a2a2a" stroke-width="1"/>
<ellipse cx="14.4" cy="317.9" rx="10.4" ry="14.7" transform="rotate(-8 14.4 317.9)" fill="#8a8a8a" stroke="#2a2a2a" stroke-width="1"/>
<g clip-path="url(#clipC)">
<path d="M2,306.0 L27,301.0" stroke="#f0f0f0" stroke-width="1.2"/>
<path d="M2,309.2 L27,304.2" stroke="#f0f0f0" stroke-width="1.2"/>
<path d="M2,312.4 L27,307.4" stroke="#f0f0f0" stroke-width="1.2"/>
<path d="M2,315.6 L27,310.6" stroke="#f0f0f0" stroke-width="1.2"/>
<path d="M2,318.8 L27,313.8" stroke="#f0f0f0" stroke-width="1.2"/>
<path d="M2,322.0 L27,317.0" stroke="#f0f0f0" stroke-width="1.2"/>
<path d="M2,325.2 L27,320.2" stroke="#f0f0f0" stroke-width="1.2"/>
<path d="M2,328.4 L27,323.4" stroke="#f0f0f0" stroke-width="1.2"/>
<path d="M2,331.6 L27,326.6" stroke="#f0f0f0" stroke-width="1.2"/>
<path d="M2,334.8 L27,329.8" stroke="#f0f0f0" stroke-width="1.2"/>
</g>
<ellipse cx="14.4" cy="317.9" rx="10.4" ry="14.7" transform="rotate(-8 14.4 317.9)" fill="none" stroke="#2a2a2a" stroke-width="1"/>
<ellipse cx="78.6" cy="294.2" rx="21.2" ry="27.8" transform="rotate(-9 78.6 294.2)" fill="#b8b8b8" stroke="#2a2a2a" stroke-width="1"/>
<ellipse cx="77.3" cy="294.2" rx="21.2" ry="27.8" transform="rotate(-9 77.3 294.2)" fill="url(#cg20)" stroke="#2a2a2a" stroke-width="1"/>
<ellipse cx="77.2" cy="293.5" rx="10.6" ry="13.8" transform="rotate(-9 77.2 293.5)" fill="#d4d4d4" stroke="#2a2a2a" stroke-width="1"/>
<ellipse cx="78.2" cy="294" rx="9" ry="12.5" transform="rotate(-9 78.2 294)" fill="#fff" stroke="#2a2a2a" stroke-width="0.8"/>
<path d="M138.5,246 L146,244 Q160,246 164.5,262 Q166.5,272 164.5,282 Q160,295 150,296.5 L138.5,295 Z" fill="url(#cg21)" stroke="#2a2a2a" stroke-width="1"/>
<path d="M145,244.5 Q154,250 155.5,268 Q155.5,288 147,296" fill="none" stroke="#2a2a2a" stroke-width="0.8"/>
<ellipse cx="138" cy="270.5" rx="17.5" ry="24.5" fill="url(#cg22)" stroke="#2a2a2a" stroke-width="1"/>
<path d="M109.7,264.8 L136,255.6 Q146,262 145,276 Q143,284 137,287 L113,295.8 Z" fill="url(#cg23)" stroke="none"/>
<path d="M109.7,264.8 L136,255.6 M137,287 L113,295.8" fill="none" stroke="#2a2a2a" stroke-width="1"/>
<path d="M136,255.6 Q146,262 145,276 Q143,284 137,286.5" fill="none" stroke="#2a2a2a" stroke-width="0.8"/>
<ellipse cx="110.6" cy="280.4" rx="11.7" ry="15.6" fill="#ececec" stroke="#2a2a2a" stroke-width="1"/>
<ellipse cx="111.4" cy="280.7" rx="7.6" ry="10" fill="#f8f8f8" stroke="#2a2a2a" stroke-width="1"/>
<path d="M105.3,276 Q106.5,271 111,270.7" fill="none" stroke="#2a2a2a" stroke-width="0.8"/>
<path d="M100.4,263 L114.3,235.8 L143.4,240.6" fill="none" stroke="#333" stroke-width="1"/>
<path d="M133.7,408.1 L137.6,401.3 L167,394.4 L174.8,388.6 Q180,386 184.5,385.6 Q192,386 198.2,388.6 Q205,393 210,399.3 L221.7,415 L237.3,434.5 L251,443.3 Q256,447 255,450.2 Q254,455 251,457 L241.3,458 L194.3,449.2 L159,434.5 L139.6,417 Z M167,417 Q167,409 170.8,403.2 Q175,397 180.6,395.4 L190.4,394.4 Q196,395 202,399.3 Q209,404 213.9,411 Q218,418 219.7,426.7 L219.7,442.4 Q218,446 215.8,446.3 L194.3,441.4 Q183,436 174.8,428.7 Q169,425 167,417 Z" fill="#d7b597" fill-rule="evenodd" stroke="#2a2a2a" stroke-width="1"/>
<ellipse cx="141.5" cy="410" rx="3.7" ry="4.6" fill="#fff" stroke="#2a2a2a" stroke-width="1"/>
<ellipse cx="247.1" cy="449.2" rx="3.7" ry="4.3" fill="#fff" stroke="#2a2a2a" stroke-width="1"/>
<path d="M221.3,375.2 L225.5,369.6 L246.7,359.7 Q248,352 252.4,348.4 Q258,343 266.5,341.3 Q274,339.5 280.7,339.9 Q288,341 294.8,345.5 Q301,350 306,358.3 L317.4,376.6 Q320,383 321.7,386.5 Q327,394 334.4,400.7 L345.7,409.2 Q348,413 347.1,417.6 Q346,421.5 342.9,423.3 L328.7,427.5 L317.4,430.4 L306.1,429 L252.4,412 L227,389.4 L221.3,380.9 Z" transform="translate(1.2,1.8)" fill="#9a9a9a" stroke="#2a2a2a" stroke-width="1"/>
<path d="M221.3,375.2 L225.5,369.6 L246.7,359.7 Q248,352 252.4,348.4 Q258,343 266.5,341.3 Q274,339.5 280.7,339.9 Q288,341 294.8,345.5 Q301,350 306,358.3 L317.4,376.6 Q320,383 321.7,386.5 Q327,394 334.4,400.7 L345.7,409.2 Q348,413 347.1,417.6 Q346,421.5 342.9,423.3 L328.7,427.5 L317.4,430.4 L306.1,429 L252.4,412 L227,389.4 L221.3,380.9 Z" fill="url(#cg24)" stroke="#2a2a2a" stroke-width="1"/>
<path d="M256.8,367.2 L258.3,365 L308.4,382.9 L308.4,424.3 L305.8,426.3 L306.7,385.3 Z" fill="#d8d8d8" stroke="#2a2a2a" stroke-width="1"/>
<path d="M256.8,367.2 L306.7,385.3 L305.8,426.3 L255.9,407.9 Z" fill="url(#cg25)" stroke="#2a2a2a" stroke-width="1"/>
<ellipse cx="280.3" cy="397.7" rx="14" ry="18.5" transform="rotate(-5 280.3 397.7)" fill="#e4e4e4" stroke="#2a2a2a" stroke-width="1"/>
<path d="M271,385 Q266,397 271,411 M274,382.5 Q268.5,397 274,413" fill="none" stroke="#2a2a2a" stroke-width="0.7"/>
<ellipse cx="283" cy="398" rx="10.8" ry="16.2" transform="rotate(-5 283 398)" fill="#fafafa" stroke="#2a2a2a" stroke-width="0.8"/>
<ellipse cx="228.9" cy="378" rx="3.5" ry="4.8" fill="#fff" stroke="#2a2a2a" stroke-width="1"/>
<ellipse cx="335.8" cy="417" rx="3.3" ry="4.2" fill="#fff" stroke="#2a2a2a" stroke-width="1"/>
<path d="M227,413.6 L283.4,395" stroke="#333" stroke-width="1"/>
<ellipse cx="340" cy="375.2" rx="12.3" ry="16.4" transform="rotate(-12 340 375.2)" fill="none" stroke="#2a2a2a" stroke-width="3.8"/>
<ellipse cx="340" cy="375.2" rx="12.3" ry="16.4" transform="rotate(-12 340 375.2)" fill="none" stroke="#8e8e8e" stroke-width="1.9"/>
<path d="M456.3,347.5 L462.9,349.9 L462.6,354.7 L455.8,356.4 L455.4,359.1 L461.5,362.5 L460.5,367.2 L453.5,367.7 L452.7,370.2 L458.2,374.5 L456.4,378.8 L449.5,377.9 L448.3,380.2 L453.0,385.3 L450.6,389.0 L444.1,386.6 L442.6,388.4 L446.2,394.3 L443.2,397.2 L437.5,393.4 L435.8,394.7 L438.0,401.2 L434.7,403.1 L430.2,398.0 L428.4,398.7 L429.0,405.5 L425.4,406.5 L422.6,400.3 L420.8,400.5 L419.5,407.2 L415.8,407.1 L414.9,400.4 L413.1,400.0 L409.9,406.1 L406.4,405.0 L407.3,398.2 L405.5,397.3 L400.8,402.3 L397.5,400.1 L400.0,393.8 L398.3,392.4 L392.4,395.9 L389.6,392.9 L393.4,387.1 L391.9,385.3 L385.3,387.3 L383.0,383.6 L387.8,378.6 L386.7,376.2 L379.8,376.9 L378.1,372.6 L383.7,368.4 L382.9,365.8 L376.0,365.1 L375.1,360.4 L381.3,357.2 L381.0,354.4 L374.2,352.5 L374.1,347.7 L380.7,345.5 L380.9,342.7 L374.5,339.7 L375.2,335.0 L382.1,333.9 L382.7,331.2 L376.9,327.3 L378.3,322.8 L385.3,323.1 L386.3,320.6 L381.2,315.9 L383.3,311.9 L390.0,313.5 L391.4,311.5 L387.2,306.0 L389.9,302.7 L396.1,305.7 L397.7,304.2 L394.8,298.0 L397.9,295.5 L403.1,300.0 L404.8,299.0 L403.4,292.3 L406.9,290.9 L410.6,296.6 L412.4,296.1 L412.7,289.3 L416.3,288.9 L418.2,295.4 L420.1,295.4 L422.3,289.0 L425.9,289.6 L425.9,296.4 L427.8,297.0 L431.7,291.5 L435.2,293.1 L433.4,299.7 L435.2,300.9 L440.5,296.6 L443.6,299.2 L440.4,305.3 L442.0,306.9 L448.3,304.1 L450.9,307.5 L446.6,312.9 L447.9,315.0 L454.7,313.7 L456.7,317.8 L451.5,322.4 L452.4,324.8 L459.4,324.9 L460.7,329.4 L454.7,333.1 L455.3,335.8 L462.1,337.1 L462.7,341.9 L456.2,344.7 Z" fill="#666" stroke="#2a2a2a" stroke-width="1"/>
<path d="M376.3,399.4 L370.4,402.9 L392.4,395.9 L398.3,392.4 Z" fill="#4a4a4a" stroke="#2a2a2a" stroke-width="0.55" stroke-linejoin="round"/>
<path d="M353.2,342.0 L360.1,340.9 L382.1,333.9 L375.2,335.0 Z" fill="#ececec" stroke="#2a2a2a" stroke-width="0.55" stroke-linejoin="round"/>
<path d="M383.5,404.3 L378.8,409.3 L400.8,402.3 L405.5,397.3 Z" fill="#515151" stroke="#2a2a2a" stroke-width="0.55" stroke-linejoin="round"/>
<path d="M356.3,329.8 L363.3,330.1 L385.3,323.1 L378.3,322.8 Z" fill="#ececec" stroke="#2a2a2a" stroke-width="0.55" stroke-linejoin="round"/>
<path d="M391.1,407.0 L387.9,413.1 L409.9,406.1 L413.1,400.0 Z" fill="#5f5f5f" stroke="#2a2a2a" stroke-width="0.55" stroke-linejoin="round"/>
<path d="M361.3,318.9 L368.0,320.5 L390.0,313.5 L383.3,311.9 Z" fill="#eaeaea" stroke="#2a2a2a" stroke-width="0.55" stroke-linejoin="round"/>
<path d="M398.8,407.5 L397.5,414.2 L419.5,407.2 L420.8,400.5 Z" fill="#727272" stroke="#2a2a2a" stroke-width="0.55" stroke-linejoin="round"/>
<path d="M367.9,309.7 L374.1,312.7 L396.1,305.7 L389.9,302.7 Z" fill="#e3e3e3" stroke="#2a2a2a" stroke-width="0.55" stroke-linejoin="round"/>
<path d="M406.4,405.7 L407.0,412.5 L429.0,405.5 L428.4,398.7 Z" fill="#878787" stroke="#2a2a2a" stroke-width="0.55" stroke-linejoin="round"/>
<path d="M408.2,405.0 L406.4,405.7 L428.4,398.7 L430.2,398.0 Z" fill="#3c3c3c" stroke="#2a2a2a" stroke-width="0.55" stroke-linejoin="round"/>
<path d="M375.9,302.5 L381.1,307.0 L403.1,300.0 L397.9,295.5 Z" fill="#d8d8d8" stroke="#2a2a2a" stroke-width="0.55" stroke-linejoin="round"/>
<path d="M416.0,408.2 L412.7,410.1 L434.7,403.1 L438.0,401.2 Z" fill="#444444" stroke="#2a2a2a" stroke-width="0.55" stroke-linejoin="round"/>
<path d="M413.8,401.7 L416.0,408.2 L438.0,401.2 L435.8,394.7 Z" fill="#9b9b9b" stroke="#2a2a2a" stroke-width="0.55" stroke-linejoin="round"/>
<path d="M415.5,400.4 L413.8,401.7 L435.8,394.7 L437.5,393.4 Z" fill="#3c3c3c" stroke="#2a2a2a" stroke-width="0.55" stroke-linejoin="round"/>
<path d="M384.9,297.9 L388.6,303.6 L410.6,296.6 L406.9,290.9 Z" fill="#c8c8c8" stroke="#2a2a2a" stroke-width="0.55" stroke-linejoin="round"/>
<path d="M388.6,303.6 L390.4,303.1 L412.4,296.1 L410.6,296.6 Z" fill="#b9b9b9" stroke="#2a2a2a" stroke-width="0.55" stroke-linejoin="round"/>
<path d="M424.2,401.3 L421.2,404.2 L443.2,397.2 L446.2,394.3 Z" fill="#525252" stroke="#2a2a2a" stroke-width="0.55" stroke-linejoin="round"/>
<path d="M420.6,395.4 L424.2,401.3 L446.2,394.3 L442.6,388.4 Z" fill="#adadad" stroke="#2a2a2a" stroke-width="0.55" stroke-linejoin="round"/>
<path d="M422.1,393.6 L420.6,395.4 L442.6,388.4 L444.1,386.6 Z" fill="#3c3c3c" stroke="#2a2a2a" stroke-width="0.55" stroke-linejoin="round"/>
<path d="M390.7,296.3 L394.3,295.9 L416.3,288.9 L412.7,289.3 Z" fill="#ececec" stroke="#2a2a2a" stroke-width="0.55" stroke-linejoin="round"/>
<path d="M394.3,295.9 L396.2,302.4 L418.2,295.4 L416.3,288.9 Z" fill="#b5b5b5" stroke="#2a2a2a" stroke-width="0.55" stroke-linejoin="round"/>
<path d="M396.2,302.4 L398.1,302.4 L420.1,295.4 L418.2,295.4 Z" fill="#bababa" stroke="#2a2a2a" stroke-width="0.55" stroke-linejoin="round"/>
<path d="M427.5,384.9 L426.3,387.2 L448.3,380.2 L449.5,377.9 Z" fill="#3c3c3c" stroke="#2a2a2a" stroke-width="0.55" stroke-linejoin="round"/>
<path d="M431.0,392.3 L428.6,396.0 L450.6,389.0 L453.0,385.3 Z" fill="#626262" stroke="#2a2a2a" stroke-width="0.55" stroke-linejoin="round"/>
<path d="M426.3,387.2 L431.0,392.3 L453.0,385.3 L448.3,380.2 Z" fill="#bdbdbd" stroke="#2a2a2a" stroke-width="0.55" stroke-linejoin="round"/>
<path d="M400.3,296.0 L403.9,296.6 L425.9,289.6 L422.3,289.0 Z" fill="#ebebeb" stroke="#2a2a2a" stroke-width="0.55" stroke-linejoin="round"/>
<path d="M403.9,303.4 L405.8,304.0 L427.8,297.0 L425.9,296.4 Z" fill="#b6b6b6" stroke="#2a2a2a" stroke-width="0.55" stroke-linejoin="round"/>
<path d="M403.9,296.6 L403.9,303.4 L425.9,296.4 L425.9,289.6 Z" fill="#a0a0a0" stroke="#2a2a2a" stroke-width="0.55" stroke-linejoin="round"/>
<path d="M431.5,374.7 L430.7,377.2 L452.7,370.2 L453.5,367.7 Z" fill="#4d4d4d" stroke="#2a2a2a" stroke-width="0.55" stroke-linejoin="round"/>
<path d="M430.7,377.2 L436.2,381.5 L458.2,374.5 L452.7,370.2 Z" fill="#cccccc" stroke="#2a2a2a" stroke-width="0.55" stroke-linejoin="round"/>
<path d="M436.2,381.5 L434.4,385.8 L456.4,378.8 L458.2,374.5 Z" fill="#747474" stroke="#2a2a2a" stroke-width="0.55" stroke-linejoin="round"/>
<path d="M411.4,306.7 L413.2,307.9 L435.2,300.9 L433.4,299.7 Z" fill="#adadad" stroke="#2a2a2a" stroke-width="0.55" stroke-linejoin="round"/>
<path d="M413.2,300.1 L411.4,306.7 L433.4,299.7 L435.2,293.1 Z" fill="#8e8e8e" stroke="#2a2a2a" stroke-width="0.55" stroke-linejoin="round"/>
<path d="M409.7,298.5 L413.2,300.1 L435.2,293.1 L431.7,291.5 Z" fill="#e4e4e4" stroke="#2a2a2a" stroke-width="0.55" stroke-linejoin="round"/>
<path d="M433.8,363.4 L433.4,366.1 L455.4,359.1 L455.8,356.4 Z" fill="#5f5f5f" stroke="#2a2a2a" stroke-width="0.55" stroke-linejoin="round"/>
<path d="M433.4,366.1 L439.5,369.5 L461.5,362.5 L455.4,359.1 Z" fill="#dadada" stroke="#2a2a2a" stroke-width="0.55" stroke-linejoin="round"/>
<path d="M418.4,312.3 L420.0,313.9 L442.0,306.9 L440.4,305.3 Z" fill="#a1a1a1" stroke="#2a2a2a" stroke-width="0.55" stroke-linejoin="round"/>
<path d="M439.5,369.5 L438.5,374.2 L460.5,367.2 L461.5,362.5 Z" fill="#878787" stroke="#2a2a2a" stroke-width="0.55" stroke-linejoin="round"/>
<path d="M421.6,306.2 L418.4,312.3 L440.4,305.3 L443.6,299.2 Z" fill="#808080" stroke="#2a2a2a" stroke-width="0.55" stroke-linejoin="round"/>
<path d="M434.2,351.7 L434.3,354.5 L456.3,347.5 L456.2,344.7 Z" fill="#707070" stroke="#2a2a2a" stroke-width="0.55" stroke-linejoin="round"/>
<path d="M418.5,303.6 L421.6,306.2 L443.6,299.2 L440.5,296.6 Z" fill="#d9d9d9" stroke="#2a2a2a" stroke-width="0.55" stroke-linejoin="round"/>
<path d="M424.6,319.9 L425.9,322.0 L447.9,315.0 L446.6,312.9 Z" fill="#959595" stroke="#2a2a2a" stroke-width="0.55" stroke-linejoin="round"/>
<path d="M432.7,340.1 L433.3,342.8 L455.3,335.8 L454.7,333.1 Z" fill="#7c7c7c" stroke="#2a2a2a" stroke-width="0.55" stroke-linejoin="round"/>
<path d="M434.3,354.5 L440.9,356.9 L462.9,349.9 L456.3,347.5 Z" fill="#e6e6e6" stroke="#2a2a2a" stroke-width="0.55" stroke-linejoin="round"/>
<path d="M429.5,329.4 L430.4,331.8 L452.4,324.8 L451.5,322.4 Z" fill="#888888" stroke="#2a2a2a" stroke-width="0.55" stroke-linejoin="round"/>
<path d="M428.9,314.5 L424.6,319.9 L446.6,312.9 L450.9,307.5 Z" fill="#747474" stroke="#2a2a2a" stroke-width="0.55" stroke-linejoin="round"/>
<path d="M440.7,348.9 L434.2,351.7 L456.2,344.7 L462.7,341.9 Z" fill="#616161" stroke="#2a2a2a" stroke-width="0.55" stroke-linejoin="round"/>
<path d="M440.9,356.9 L440.6,361.7 L462.6,354.7 L462.9,349.9 Z" fill="#9a9a9a" stroke="#2a2a2a" stroke-width="0.55" stroke-linejoin="round"/>
<path d="M425.9,322.0 L432.7,320.7 L454.7,313.7 L447.9,315.0 Z" fill="#ececec" stroke="#2a2a2a" stroke-width="0.55" stroke-linejoin="round"/>
<path d="M433.3,342.8 L440.1,344.1 L462.1,337.1 L455.3,335.8 Z" fill="#ebebeb" stroke="#2a2a2a" stroke-width="0.55" stroke-linejoin="round"/>
<path d="M434.7,324.8 L429.5,329.4 L451.5,322.4 L456.7,317.8 Z" fill="#6c6c6c" stroke="#2a2a2a" stroke-width="0.55" stroke-linejoin="round"/>
<path d="M438.7,336.4 L432.7,340.1 L454.7,333.1 L460.7,329.4 Z" fill="#656565" stroke="#2a2a2a" stroke-width="0.55" stroke-linejoin="round"/>
<path d="M426.3,311.1 L428.9,314.5 L450.9,307.5 L448.3,304.1 Z" fill="#cdcdcd" stroke="#2a2a2a" stroke-width="0.55" stroke-linejoin="round"/>
<path d="M430.4,331.8 L437.4,331.9 L459.4,324.9 L452.4,324.8 Z" fill="#ececec" stroke="#2a2a2a" stroke-width="0.55" stroke-linejoin="round"/>
<path d="M440.1,344.1 L440.7,348.9 L462.7,341.9 L462.1,337.1 Z" fill="#a8a8a8" stroke="#2a2a2a" stroke-width="0.55" stroke-linejoin="round"/>
<path d="M432.7,320.7 L434.7,324.8 L456.7,317.8 L454.7,313.7 Z" fill="#c1c1c1" stroke="#2a2a2a" stroke-width="0.55" stroke-linejoin="round"/>
<path d="M437.4,331.9 L438.7,336.4 L460.7,329.4 L459.4,324.9 Z" fill="#b4b4b4" stroke="#2a2a2a" stroke-width="0.55" stroke-linejoin="round"/>
<path d="M434.3,354.5 L440.9,356.9 L440.6,361.7 L433.8,363.4 L433.4,366.1 L439.5,369.5 L438.5,374.2 L431.5,374.7 L430.7,377.2 L436.2,381.5 L434.4,385.8 L427.5,384.9 L426.3,387.2 L431.0,392.3 L428.6,396.0 L422.1,393.6 L420.6,395.4 L424.2,401.3 L421.2,404.2 L415.5,400.4 L413.8,401.7 L416.0,408.2 L412.7,410.1 L408.2,405.0 L406.4,405.7 L407.0,412.5 L403.4,413.5 L400.6,407.3 L398.8,407.5 L397.5,414.2 L393.8,414.1 L392.9,407.4 L391.1,407.0 L387.9,413.1 L384.4,412.0 L385.3,405.2 L383.5,404.3 L378.8,409.3 L375.5,407.1 L378.0,400.8 L376.3,399.4 L370.4,402.9 L367.6,399.9 L371.4,394.1 L369.9,392.3 L363.3,394.3 L361.0,390.6 L365.8,385.6 L364.7,383.2 L357.8,383.9 L356.1,379.6 L361.7,375.4 L360.9,372.8 L354.0,372.1 L353.1,367.4 L359.3,364.2 L359.0,361.4 L352.2,359.5 L352.1,354.7 L358.7,352.5 L358.9,349.7 L352.5,346.7 L353.2,342.0 L360.1,340.9 L360.7,338.2 L354.9,334.3 L356.3,329.8 L363.3,330.1 L364.3,327.6 L359.2,322.9 L361.3,318.9 L368.0,320.5 L369.4,318.5 L365.2,313.0 L367.9,309.7 L374.1,312.7 L375.7,311.2 L372.8,305.0 L375.9,302.5 L381.1,307.0 L382.8,306.0 L381.4,299.3 L384.9,297.9 L388.6,303.6 L390.4,303.1 L390.7,296.3 L394.3,295.9 L396.2,302.4 L398.1,302.4 L400.3,296.0 L403.9,296.6 L403.9,303.4 L405.8,304.0 L409.7,298.5 L413.2,300.1 L411.4,306.7 L413.2,307.9 L418.5,303.6 L421.6,306.2 L418.4,312.3 L420.0,313.9 L426.3,311.1 L428.9,314.5 L424.6,319.9 L425.9,322.0 L432.7,320.7 L434.7,324.8 L429.5,329.4 L430.4,331.8 L437.4,331.9 L438.7,336.4 L432.7,340.1 L433.3,342.8 L440.1,344.1 L440.7,348.9 L434.2,351.7 Z" fill="url(#gM)" stroke="#2a2a2a" stroke-width="1"/>
<path d="M392.5,345.9 L391.5,340.4 L394.0,339.0 L396.4,343.9 L399.2,344.3 L402.5,340.4 L404.6,342.4 L402.6,347.5 L403.7,350.8 L408.0,352.5 L407.7,355.9 L403.2,356.2 L401.5,359.1 L402.5,364.6 L400.0,366.0 L397.6,361.1 L394.8,360.7 L391.5,364.6 L389.4,362.6 L391.4,357.5 L390.3,354.2 L386.0,352.5 L386.3,349.1 L390.8,348.8 Z" fill="#b4b4b4" stroke="#2a2a2a" stroke-width="1"/>
<g clip-path="url(#clipSp)">
<path d="M384,346.5 L410,339.5" stroke="#ececec" stroke-width="2"/>
<path d="M384,348.3 L410,341.3" stroke="#444" stroke-width="0.8"/>
<path d="M384,351.5 L410,344.5" stroke="#ececec" stroke-width="2"/>
<path d="M384,353.3 L410,346.3" stroke="#444" stroke-width="0.8"/>
<path d="M384,356.5 L410,349.5" stroke="#ececec" stroke-width="2"/>
<path d="M384,358.3 L410,351.3" stroke="#444" stroke-width="0.8"/>
<path d="M384,361.5 L410,354.5" stroke="#ececec" stroke-width="2"/>
<path d="M384,363.3 L410,356.3" stroke="#444" stroke-width="0.8"/>
<path d="M384,366.5 L410,359.5" stroke="#ececec" stroke-width="2"/>
<path d="M384,368.3 L410,361.3" stroke="#444" stroke-width="0.8"/>
</g>
<path d="M392.5,345.9 L391.5,340.4 L394.0,339.0 L396.4,343.9 L399.2,344.3 L402.5,340.4 L404.6,342.4 L402.6,347.5 L403.7,350.8 L408.0,352.5 L407.7,355.9 L403.2,356.2 L401.5,359.1 L402.5,364.6 L400.0,366.0 L397.6,361.1 L394.8,360.7 L391.5,364.6 L389.4,362.6 L391.4,357.5 L390.3,354.2 L386.0,352.5 L386.3,349.1 L390.8,348.8 Z" fill="none" stroke="#2a2a2a" stroke-width="1"/>
<ellipse cx="473.4" cy="323.2" rx="16.2" ry="21" transform="rotate(-11 473.4 323.2)" fill="#bdbdbd" stroke="#2a2a2a" stroke-width="1"/>
<ellipse cx="472.6" cy="323.3" rx="16" ry="20.8" transform="rotate(-11 472.6 323.3)" fill="url(#cg26)" stroke="#2a2a2a" stroke-width="1"/>
<ellipse cx="471.9" cy="323.7" rx="8.4" ry="10.8" transform="rotate(-11 471.9 323.7)" fill="#d6d6d6" stroke="#2a2a2a" stroke-width="1"/>
<ellipse cx="472.7" cy="324.2" rx="7" ry="9.6" transform="rotate(-11 472.7 324.2)" fill="#fff" stroke="#2a2a2a" stroke-width="0.7"/>
<path d="M490.5,284.6 L498,282.2 Q500,282.5 499.5,284.8 L491.5,287.6 Q489,288 489.3,286 Z" fill="#e4e4e4" stroke="#2a2a2a" stroke-width="1"/>
<path d="M501,293.6 L526,284.7 Q540,288 542.2,303.3 Q542,316 536.6,320.3 L504,331 Z" fill="url(#cg27)" stroke="#2a2a2a" stroke-width="1"/>
<ellipse cx="502.6" cy="312.3" rx="14.8" ry="18.7" transform="rotate(-4 502.6 312.3)" fill="#ececec" stroke="#2a2a2a" stroke-width="1"/>
<ellipse cx="502.8" cy="312.5" rx="11.3" ry="14.8" transform="rotate(-4 502.8 312.5)" fill="#8a8a8a" stroke="#2a2a2a" stroke-width="1"/>
<g clip-path="url(#clipB)">
<path d="M490,301.0 L516,296.0" stroke="#f0f0f0" stroke-width="1.2"/>
<path d="M490,304.1 L516,299.1" stroke="#f0f0f0" stroke-width="1.2"/>
<path d="M490,307.2 L516,302.2" stroke="#f0f0f0" stroke-width="1.2"/>
<path d="M490,310.3 L516,305.3" stroke="#f0f0f0" stroke-width="1.2"/>
<path d="M490,313.4 L516,308.4" stroke="#f0f0f0" stroke-width="1.2"/>
<path d="M490,316.5 L516,311.5" stroke="#f0f0f0" stroke-width="1.2"/>
<path d="M490,319.6 L516,314.6" stroke="#f0f0f0" stroke-width="1.2"/>
<path d="M490,322.7 L516,317.7" stroke="#f0f0f0" stroke-width="1.2"/>
<path d="M490,325.8 L516,320.8" stroke="#f0f0f0" stroke-width="1.2"/>
<path d="M490,328.9 L516,323.9" stroke="#f0f0f0" stroke-width="1.2"/>
</g>
<ellipse cx="502.8" cy="312.5" rx="11.3" ry="14.8" transform="rotate(-4 502.8 312.5)" fill="none" stroke="#2a2a2a" stroke-width="1"/>
<path d="M504.4,333.6 L497.5,345.8" stroke="#333" stroke-width="1"/>
<path d="M640,290 C650,292 657,295 661.3,301.7 C666,310 669,320 669,330 C669.5,342 668.5,349 666.7,354 C664,360 661,364 657,367 C652,370.5 647,372 641.7,372.4 C645,370 647,368.5 648.3,367 C652,362 655,356 655.9,349.6 C656.5,340 656,330 654.8,323.5 C652,312 648,305 644,300.6 Z" fill="url(#cg28)" stroke="#2a2a2a" stroke-width="1"/>
<path d="M577.4,305 L577.4,310 C580,315 583,319 585,322.4 C587.5,327 589,331 590.4,334.6 C592,341 593.5,347 595.7,352.9 C598,357 600.5,360 603.3,362 C608,366 614,369.5 620,371.3 C628,373.5 636,372.5 641.7,372.4 C645,370 647,368.5 648.3,367 C652,362 655,356 655.9,349.6 C656.5,340 656,330 654.8,323.5 C652,312 648,305 644,300.6 L600,298 Z" fill="url(#cg29)" stroke="#2a2a2a" stroke-width="1"/>
<path d="M575,302 L577.4,310 C580,315 583,319 585,322.4 C587.5,327 589,331 590.4,334.6 C593,338 596,341 598.7,342.2 C603,344 607,345 610.9,344.5 C613.5,343.5 615.5,342.5 617,340.7 C619,337.5 620.5,334 621.6,331.5 C623,329 624.5,328 626.1,327 C629,325 632,323 635.3,320.9 L641,312 L640,302 Z" fill="url(#cg30)" stroke="none"/>
<path d="M590.4,334.6 C593,338 596,341 598.7,342.2 C603,344 607,345 610.9,344.5 C613.5,343.5 615.5,342.5 617,340.7 C619,337.5 620.5,334 621.6,331.5 C623,329 624.5,328 626.1,327 C629,325 632,323 635.3,320.9" fill="none" stroke="#2a2a2a" stroke-width="0.8"/>
<ellipse cx="609" cy="352.5" rx="4.3" ry="5.1" fill="#f2f2f2" stroke="#2a2a2a" stroke-width="1"/>
<path d="M605.6,351 Q606.5,348 609.5,347.8" fill="none" stroke="#888" stroke-width="1"/>
<path d="M566,243.5 C575,238 590,232 600.4,230.7 C606,229.8 612,229.9 617.8,232.4 C622,234.5 626,237 628.3,239.4 C632,243.5 635,248 637,251.6 C640,257 642,261 643.9,265.5 C645.5,271 646.8,275 647.4,279.4 C648,284 648.3,288 648.3,291.6 L644,300.6 L600,305 L570,290 Z" fill="url(#cg31)" stroke="#2a2a2a" stroke-width="1"/>
<path d="M517.6,265.7 L520.9,272.2 L538.3,282 L553.5,288.5 L572.6,305 Q584,309.5 594.3,311 L616,314 L627,318.5 L637.8,316.3 L637.5,318.5 L627,320.8 L615.5,316.8 L594,313.8 Q583,312.5 571.5,308 L552.5,291.5 L537.5,285 L519.5,275 L516.5,269 Z" fill="#d0d0d0" stroke="#2a2a2a" stroke-width="1"/>
<path d="M517.6,265.7 L520.9,259.1 L531.7,257 L550.2,253.7 L555.7,248.3 C559,246 562,244.5 566,243.5 C572,243 578,243.5 583.5,245.7 C588,248 592,251 595,255.7 C598,260 601,264.5 603.5,268.4 C605.5,271.5 608,274.5 610.6,276.9 C613.5,280 617,283 620.5,285.4 C624,288 627,290.5 630.4,292.4 C633,294 635.2,295.3 637.4,296.7 C640,298.5 642,300 643.1,302.3 Q645,305.5 644.5,309.4 L637.8,316.3 L627,318.5 L616,314 L594.3,311 Q584,309.5 572.6,305 L553.5,288.5 L538.3,282 L520.9,272.2 Z" fill="url(#cg32)" stroke="none"/>
<path d="M612.7,267 L614.8,269.8 C617.5,272.5 620.5,275.5 623.3,278.3 C626.5,281.2 630,284.2 633.2,286.8 C635,288.4 637,289.8 638.8,291 C641,292.2 643,292.8 645,293" fill="none" stroke="#2a2a2a" stroke-width="0.9"/>
<path d="M566,243.5 C562,244.5 559,246 555.7,248.3 L550.2,253.7 L531.7,257 L520.9,259.1 L517.6,265.7 L520.9,272.2 L538.3,282 L553.5,288.5 L572.6,305 Q584,309.5 594.3,311 L616,314 L627,318.5 L637.8,316.3 L644.5,309.4 Q645,305.5 643.1,302.3 C642,300 640,298.5 637.4,296.7 C635.2,295.3 633,294 630.4,292.4 C627,290.5 624,288 620.5,285.4 C617,283 613.5,280 610.6,276.9 C608,274.5 605.5,271.5 603.5,268.4 C601,264.5 598,260 595,255.7 C592,251 588,248 583.5,245.7 C578,243.5 572,243 566,243.5" fill="none" stroke="#2a2a2a" stroke-width="1"/>
<path d="M551.9,277.7 C551.8,274 552,271 552.5,268 C553.5,264.5 555,261 557,258.5 C559,256.5 561,255 563,254 C566,253 569,252.6 571.7,252.6 C575.5,252.5 579.5,252.6 583,253 C586.5,253.8 590,254.8 593.2,256.2 C595.3,258 597,260 598.5,262.5 C599.8,264.5 600.8,266.8 601.5,269 C602.3,271.5 602.8,274.2 603,277 C603.4,280.3 603.6,283.5 603.5,286.8 C603.3,289.3 603,291.7 602.5,294 C601.8,295.7 601,297.2 600,298.5 C598.5,299.6 596.8,300.4 595,301 C591,302 587,302.5 583,302.7 C581.6,302.8 580.2,302.8 578.9,302.8 C574.8,301.6 570.8,300.2 567,298.5 C563.5,296.6 560.3,294.5 557.3,292 C555.6,289.8 554.2,287.5 553,285 C552.3,282.6 552,280.1 551.9,277.7 Z" fill="url(#cg33)" stroke="#2a2a2a" stroke-width="1"/>
<path d="M577,252.8 C574.5,263 574,280 575.5,290 C576.5,295.5 577.5,299.5 578.9,302.8 C580.2,302.8 581.6,302.8 583,302.7 C587,302.5 591,302 595,301 C596.8,300.4 598.5,299.6 600,298.5 C601,297.2 601.8,295.7 602.5,294 C603,291.7 603.3,289.3 603.5,286.8 C603.6,283.5 603.4,280.3 603,277 C602.8,274.2 602.3,271.5 601.5,269 C600.8,266.8 599.8,264.5 598.5,262.5 C597,260 595.3,258 593.2,256.2 C590,254.8 586.5,253.8 583,253 Z" fill="url(#cg34)" stroke="none"/>
<path d="M577,252.8 C574.5,263 574,280 575.5,290 C576.5,295.5 577.5,299.5 578.9,302.8" fill="none" stroke="#2a2a2a" stroke-width="0.8"/>
<ellipse cx="595" cy="280.5" rx="4.4" ry="13.5" transform="rotate(-6 595 280.5)" fill="#fbfbfb" stroke="#2a2a2a" stroke-width="0.8"/>
<path d="M551.9,277.7 C551.8,274 552,271 552.5,268 C553.5,264.5 555,261 557,258.5 C559,256.5 561,255 563,254 C566,253 569,252.6 571.7,252.6 C575.5,252.5 579.5,252.6 583,253 C586.5,253.8 590,254.8 593.2,256.2 C595.3,258 597,260 598.5,262.5 C599.8,264.5 600.8,266.8 601.5,269 C602.3,271.5 602.8,274.2 603,277 C603.4,280.3 603.6,283.5 603.5,286.8 C603.3,289.3 603,291.7 602.5,294 C601.8,295.7 601,297.2 600,298.5 C598.5,299.6 596.8,300.4 595,301 C591,302 587,302.5 583,302.7 C581.6,302.8 580.2,302.8 578.9,302.8 C574.8,301.6 570.8,300.2 567,298.5 C563.5,296.6 560.3,294.5 557.3,292 C555.6,289.8 554.2,287.5 553,285 C552.3,282.6 552,280.1 551.9,277.7 Z" fill="none" stroke="#2a2a2a" stroke-width="1"/>
<ellipse cx="525.8" cy="268.4" rx="3.8" ry="4.9" fill="#f4f4f4" stroke="#2a2a2a" stroke-width="1"/>
<path d="M523,267 Q524,264.5 526.5,264.5" fill="none" stroke="#999" stroke-width="0.9"/>
<circle cx="538.3" cy="265.7" r="1.1" fill="#fff" stroke="#333" stroke-width="0.6"/>
<ellipse cx="630" cy="308" rx="3.8" ry="4.6" transform="rotate(-15 630 308)" fill="#f4f4f4" stroke="#2a2a2a" stroke-width="1"/>
<path d="M612.4,302 L620,299.5 Q621.5,300.5 620.5,302 L613,304 Q611.5,303 612.4,302 Z" fill="#fff" stroke="#333" stroke-width="0.7"/>
<path d="M502.8,372 L553,352.3 Q560,354 559.7,358 Q559.5,362.5 556.6,364.3 L505.1,385.4 Z" fill="url(#cg35)" stroke="#2a2a2a" stroke-width="1"/>
<path d="M507.5,370.5 Q509.8,377.0 508.6,383.8" fill="none" stroke="#444" stroke-width="0.8"/>
<path d="M510.1,369.5 Q512.4,375.9 511.2,382.7" fill="none" stroke="#444" stroke-width="0.8"/>
<path d="M512.7,368.5 Q515.0,374.9 513.8,381.7" fill="none" stroke="#444" stroke-width="0.8"/>
<path d="M515.3,367.4 Q517.6,373.9 516.4,380.6" fill="none" stroke="#444" stroke-width="0.8"/>
<path d="M517.9,366.4 Q520.2,372.8 519.0,379.5" fill="none" stroke="#444" stroke-width="0.8"/>
<path d="M520.5,365.4 Q522.8,371.8 521.6,378.4" fill="none" stroke="#444" stroke-width="0.8"/>
<path d="M542.5,356.8 Q544.8,363.0 543.6,369.4" fill="none" stroke="#444" stroke-width="0.8"/>
<path d="M545.3,355.7 Q547.6,361.9 546.4,368.2" fill="none" stroke="#444" stroke-width="0.8"/>
<path d="M548.1,354.6 Q550.4,360.8 549.2,367.1" fill="none" stroke="#444" stroke-width="0.8"/>
<path d="M550.9,353.5 Q553.2,359.7 552.0,365.9" fill="none" stroke="#444" stroke-width="0.8"/>
<path d="M553.7,352.4 Q556.0,358.6 554.8,364.8" fill="none" stroke="#444" stroke-width="0.8"/>
<ellipse cx="504.2" cy="378.9" rx="4.5" ry="6.6" transform="rotate(-10 504.2 378.9)" fill="#eee" stroke="#2a2a2a" stroke-width="1"/>
<path d="M643.9,211.9 L683.0,197.5 L688.0,211.5 L648.8,224.6 Z" fill="url(#cg36)" stroke="none"/>
<path d="M643.9,211.9 L683.0,197.5 M648.8,224.6 L688.0,211.5" fill="none" stroke="#2a2a2a" stroke-width="1"/>
<path d="M650.5,209.9 Q653.1,216.3 651.7,222.8" fill="none" stroke="#444" stroke-width="0.8"/>
<path d="M653.4,208.8 Q656.0,215.3 654.6,221.8" fill="none" stroke="#444" stroke-width="0.8"/>
<path d="M656.3,207.8 Q658.9,214.3 657.5,220.8" fill="none" stroke="#444" stroke-width="0.8"/>
<path d="M659.2,206.8 Q661.8,213.3 660.4,219.8" fill="none" stroke="#444" stroke-width="0.8"/>
<path d="M662.1,205.7 Q664.7,212.3 663.3,218.8" fill="none" stroke="#444" stroke-width="0.8"/>
<ellipse cx="646" cy="218.4" rx="4.5" ry="6" transform="rotate(-8 646 218.4)" fill="#f2f2f2" stroke="#2a2a2a" stroke-width="1"/>
<path d="M680.0,194.8 L694.3,189.4 L701.1,196.7 L701.6,207.5 L695.2,209.4 L687.9,212.4 L686.0,210.9 L684.0,205.0 Z" fill="#dadada" stroke="#2a2a2a" stroke-width="1"/>
<path d="M680.0,194.8 L694.3,189.4 L701.1,196.7 L693.3,198.7 L688.9,192.3 Z" fill="#e6e6e6" stroke="#2a2a2a" stroke-width="0.8"/>
<path d="M693.3,198.7 L701.1,196.7 L701.6,207.5 L695.2,209.4 Z" fill="#f6f6f6" stroke="#2a2a2a" stroke-width="0.8"/>
<path d="M684.0,196.0 L686.5,203.0 L686.0,210.9" fill="none" stroke="#2a2a2a" stroke-width="0.7"/>
<path d="M721.7,241.3 L760.8,226.9 L765.8,240.9 L726.6,254.0 Z" fill="url(#cg37)" stroke="none"/>
<path d="M721.7,241.3 L760.8,226.9 M726.6,254.0 L765.8,240.9" fill="none" stroke="#2a2a2a" stroke-width="1"/>
<path d="M728.3,239.3 Q730.9,245.7 729.5,252.2" fill="none" stroke="#444" stroke-width="0.8"/>
<path d="M731.2,238.2 Q733.8,244.7 732.4,251.2" fill="none" stroke="#444" stroke-width="0.8"/>
<path d="M734.1,237.2 Q736.7,243.7 735.3,250.2" fill="none" stroke="#444" stroke-width="0.8"/>
<path d="M737.0,236.2 Q739.6,242.7 738.2,249.2" fill="none" stroke="#444" stroke-width="0.8"/>
<path d="M739.9,235.1 Q742.5,241.7 741.1,248.2" fill="none" stroke="#444" stroke-width="0.8"/>
<ellipse cx="723.8" cy="247.8" rx="4.5" ry="6" transform="rotate(-8 723.8 247.8)" fill="#f2f2f2" stroke="#2a2a2a" stroke-width="1"/>
<path d="M757.8,224.2 L772.1,218.8 L778.9,226.1 L779.4,236.9 L773.0,238.8 L765.7,241.8 L763.8,240.3 L761.8,234.4 Z" fill="#dadada" stroke="#2a2a2a" stroke-width="1"/>
<path d="M757.8,224.2 L772.1,218.8 L778.9,226.1 L771.1,228.1 L766.7,221.7 Z" fill="#e6e6e6" stroke="#2a2a2a" stroke-width="0.8"/>
<path d="M771.1,228.1 L778.9,226.1 L779.4,236.9 L773.0,238.8 Z" fill="#f6f6f6" stroke="#2a2a2a" stroke-width="0.8"/>
<path d="M761.8,225.4 L764.3,232.4 L763.8,240.3" fill="none" stroke="#2a2a2a" stroke-width="0.7"/>
<path d="M634.1,222.5 A6.6,7.4 0 1 0 634.9,225.2" fill="none" stroke="#2a2a2a" stroke-width="3.4"/>
<path d="M634.1,222.5 A6.6,7.4 0 1 0 634.9,225.2" fill="none" stroke="#e4e4e4" stroke-width="1.5"/>
<ellipse cx="679" cy="287" rx="6.5" ry="7.2" transform="rotate(-10 679 287)" fill="none" stroke="#2a2a2a" stroke-width="3.6"/>
<ellipse cx="679" cy="287" rx="6.5" ry="7.2" transform="rotate(-10 679 287)" fill="none" stroke="#cfcfcf" stroke-width="1.6"/>
<path d="M714,292.5 L722,289 L728,287 L735,294.6 L735,303.7 L728.3,306.4 L721.7,309.6 L714.7,303.7 Z" fill="#d4d4d4" stroke="#2a2a2a" stroke-width="1"/>
<path d="M722,289 L728,287 L735,294.6 L728.7,297 Z" fill="#ececec" stroke="#2a2a2a" stroke-width="0.8"/>
<path d="M728.7,297 L735,294.6 L735,303.7 L728.3,306.4 Z" fill="#f0f0f0" stroke="#2a2a2a" stroke-width="0.8"/>
<ellipse cx="721" cy="299.6" rx="5.4" ry="6" fill="url(#cg38)" stroke="#2a2a2a" stroke-width="1"/>
<path d="M715.1,252.2 L707.3,256.5 L706.5,258.2 L723,269.5 L722.1,272.1 L699.5,280" fill="none" stroke="#333" stroke-width="1"/>
<path d="M629.2,308 L693.4,281.7 L696,282.6 L694.3,290.4 L686.5,307.8 L688.2,311.2 L711.7,304.3" fill="none" stroke="#333" stroke-width="1"/>
<path d="M561.4,355.9 L585,347.5 L569.5,333 Q569.5,331.8 570.6,331.5 L629.2,308" fill="none" stroke="#333" stroke-width="1"/><g font-family="Liberation Sans, sans-serif" font-weight="bold" fill="#1a1a1a"><text transform="translate(240.77,42.45) scale(0.931,1)" font-size="20">K</text><text transform="translate(623.30,64.38) scale(0.895,1)" font-size="20">L</text><text transform="translate(323.47,143.95) scale(1.029,1)" font-size="20">Q</text><text transform="translate(390.59,144.50) scale(1.008,1)" font-size="20">D</text><text transform="translate(433.63,132.12) scale(0.821,1)" font-size="20">E</text><text transform="translate(183.65,166.25) scale(1.050,1)" font-size="20">I</text><text transform="translate(106.39,232.10) scale(0.908,1)" font-size="20">R</text><text transform="translate(51.73,264.70) scale(0.967,1)" font-size="20">P</text><text transform="translate(7.23,280.50) scale(0.869,1)" font-size="20">C</text><text transform="translate(115.75,318.50) scale(1.050,1)" font-size="20">N</text><text transform="translate(155.36,308.60) scale(0.942,1)" font-size="20">S</text><text transform="translate(242.21,277.90) scale(0.992,1)" font-size="20">H</text><text transform="translate(481.79,279.07) scale(1.008,1)" font-size="20">A</text><text transform="translate(446.77,297.50) scale(1.029,1)" font-size="20">O</text><text transform="translate(488.74,365.75) scale(0.862,1)" font-size="20">B</text><text transform="translate(513.95,400.75) scale(1.050,1)" font-size="20">G</text><text transform="translate(671.00,370.25) scale(0.820,1)" font-size="20">J</text><text transform="translate(432.75,432.85) scale(1.050,1)" font-size="20">M</text><text transform="translate(323.37,355.15) scale(0.827,1)" font-size="20">F</text><text transform="translate(328.40,452.70) scale(0.875,1)" font-size="20">T</text><text transform="translate(118.75,438.68) scale(1.050,1)" font-size="20">U</text></g></svg></body></html>
